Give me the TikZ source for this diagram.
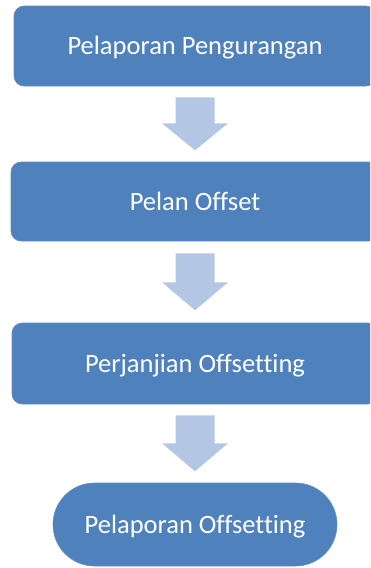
\documentclass[tikz,border=0pt]{standalone}
\usepackage{fontspec}
\setmainfont{Carlito}[Ligatures=CommonOff]
\usetikzlibrary{calc,shapes.misc}
\definecolor{boxblue}{HTML}{4F81BD}
\definecolor{arrowblue}{HTML}{B3C6E4}
\tikzset{
  boxtext/.style={text=white, font=\fontsize{26.5}{30}\selectfont, inner sep=0pt,
    text height=17pt, text depth=0pt, anchor=center},
  stepbox/.style={boxtext, fill=boxblue, draw=boxblue!90!white, line width=0.6pt, rounded corners=10pt},
  endbox/.style={boxtext, rounded rectangle, fill=boxblue, draw=boxblue!90!white, line width=0.6pt},
  flowarrow/.style={fill=arrowblue}
}
\newcommand\flowarr[4]{%
  \fill[flowarrow]
    ($(#1.south)+(-19.5,#2)$) -- ($(#1.south)+(19.5,#2)$) --
    ($(#1.south)+(19.5,#3)$) -- ($(#1.south)+(33,#3)$) --
    ($(#1.south)+(0,#4)$) -- ($(#1.south)+(-33,#3)$) --
    ($(#1.south)+(-19.5,#3)$) -- cycle;}
\begin{document}
\begin{tikzpicture}[x=1pt,y=-1pt]
\useasboundingbox (0,0) rectangle (370,568);
\clip (0,0) rectangle (370,568);
\node[stepbox, minimum width=362pt, minimum height=80pt] (b1) at (195,46) {Pelaporan Pengurangan};
\node[stepbox, minimum width=368pt, minimum height=79pt] (b2) at (195,201.5) {Pelan Offset};
\node[stepbox, minimum width=366pt, minimum height=81pt] (b3) at (195,363.5) {Perjanjian Offsetting};
\node[endbox, minimum width=284pt, minimum height=83pt] (b4) at (195,524.5) {Pelaporan Offsetting};
\flowarr{b1}{11}{37}{64}
\flowarr{b2}{12}{41}{69}
\flowarr{b3}{11}{39}{67}
\end{tikzpicture}
\end{document}
